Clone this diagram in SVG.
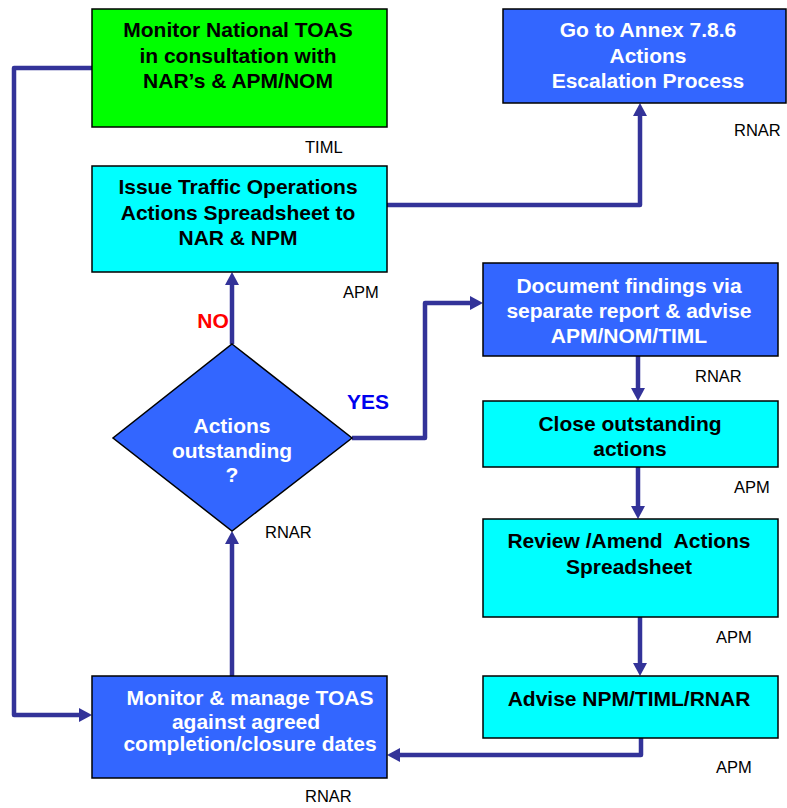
<svg xmlns="http://www.w3.org/2000/svg" width="787" height="808" viewBox="0 0 787 808">
  <style>
    .box { stroke: #000; stroke-width: 1.5; }
    .green { fill: #00ff00; }
    .cyan { fill: #00ffff; }
    .blue { fill: #3366ff; }
    .t { font-family: "Liberation Sans", Arial, sans-serif; font-size: 21px; font-weight: bold; text-anchor: middle; }
    .dark { fill: #000; }
    .light { fill: #fff; }
    .role { font-family: "Liberation Sans", Arial, sans-serif; font-size: 16.5px; fill: #000; }
    .conn { fill: none; stroke: #333399; stroke-width: 4.5; stroke-linejoin: round; }
  </style>
  <defs>
    <marker id="arrow" markerUnits="userSpaceOnUse" markerWidth="14" markerHeight="14" viewBox="0 0 14 14" refX="4" refY="7" orient="auto">
      <path d="M0,0 L13,7 L0,14 Z" fill="#333399"/>
    </marker>
  </defs>
  <rect width="787" height="808" fill="#fff"/>

  <!-- connectors -->
  <g id="connectors">
    <path class="conn" d="M92,68 H14 V715 H83" marker-end="url(#arrow)"/>
    <path class="conn" d="M387,205 H640 V112" marker-end="url(#arrow)"/>
    <path class="conn" d="M232,344 V281" marker-end="url(#arrow)"/>
    <path class="conn" d="M352,438 H425 V303 H474" marker-end="url(#arrow)"/>
    <path class="conn" d="M638,356 V392" marker-end="url(#arrow)"/>
    <path class="conn" d="M638,467 V510" marker-end="url(#arrow)"/>
    <path class="conn" d="M640,617 V667" marker-end="url(#arrow)"/>
    <path class="conn" d="M641,738 V755 H396" marker-end="url(#arrow)"/>
    <path class="conn" d="M232,676 V540" marker-end="url(#arrow)"/>
  </g>

  <g id="monitor-national">
    <rect class="box green" x="92" y="9" width="295" height="118"/>
    <text class="t dark" x="238" y="37">Monitor National TOAS</text>
    <text class="t dark" x="238" y="63">in consultation with</text>
    <text class="t dark" x="238" y="88">NAR’s &amp; APM/NOM</text>
  </g>

  <g id="annex">
    <rect class="box blue" x="503" y="9" width="283" height="94"/>
    <text class="t light" x="648" y="37">Go to Annex 7.8.6</text>
    <text class="t light" x="648" y="63">Actions</text>
    <text class="t light" x="648" y="88">Escalation Process</text>
  </g>

  <g id="issue-spreadsheet">
    <rect class="box cyan" x="92" y="166" width="295" height="106"/>
    <text class="t dark" x="238" y="194">Issue Traffic Operations</text>
    <text class="t dark" x="238" y="220">Actions Spreadsheet to</text>
    <text class="t dark" x="238" y="245">NAR &amp; NPM</text>
  </g>

  <g id="decision">
    <polygon class="box blue" points="232,344 352,438 232,531 113,438"/>
    <text class="t light" x="232" y="433">Actions</text>
    <text class="t light" x="232" y="458">outstanding</text>
    <text class="t light" x="232" y="482">?</text>
  </g>

  <g id="document-findings">
    <rect class="box blue" x="483" y="263" width="295" height="93"/>
    <text class="t light" x="629" y="293">Document findings via</text>
    <text class="t light" x="629" y="318">separate report &amp; advise</text>
    <text class="t light" x="629" y="343">APM/NOM/TIML</text>
  </g>

  <g id="close-actions">
    <rect class="box cyan" x="483" y="401" width="295" height="66"/>
    <text class="t dark" x="630" y="431">Close outstanding</text>
    <text class="t dark" x="630" y="456">actions</text>
  </g>

  <g id="review-amend">
    <rect class="box cyan" x="483" y="519" width="295" height="98"/>
    <text class="t dark" x="629" y="548" xml:space="preserve">Review /Amend  Actions</text>
    <text class="t dark" x="629" y="574">Spreadsheet</text>
  </g>

  <g id="advise">
    <rect class="box cyan" x="483" y="676" width="295" height="62"/>
    <text class="t dark" x="629" y="706">Advise NPM/TIML/RNAR</text>
  </g>

  <g id="monitor-manage">
    <rect class="box blue" x="92" y="676" width="295" height="102"/>
    <text class="t light" x="250" y="705">Monitor &amp; manage TOAS</text>
    <text class="t light" x="246" y="729">against agreed</text>
    <text class="t light" x="250" y="751">completion/closure dates</text>
  </g>

  <!-- decision branch labels -->
  <g id="branch-labels">
    <text class="t" x="213" y="328" fill="#ff0000" font-size="17px">NO</text>
    <text class="t" x="368" y="409" fill="#0000ee" font-size="17px">YES</text>
  </g>

  <!-- responsible roles -->
  <g id="roles">
    <text class="role" x="305" y="153">TIML</text>
    <text class="role" x="734" y="136">RNAR</text>
    <text class="role" x="343" y="298">APM</text>
    <text class="role" x="695" y="382">RNAR</text>
    <text class="role" x="734" y="493">APM</text>
    <text class="role" x="265" y="538">RNAR</text>
    <text class="role" x="716" y="643">APM</text>
    <text class="role" x="716" y="773">APM</text>
    <text class="role" x="305" y="802">RNAR</text>
  </g>
</svg>
